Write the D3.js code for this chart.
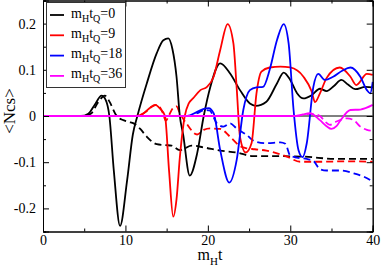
<!DOCTYPE html>
<html>
<head>
<meta charset="utf-8">
<script src="https://cdn.jsdelivr.net/npm/d3@7"></script>
<style>
  body { margin: 0; background: white; }
  text { font-family: "Liberation Serif", "DejaVu Serif", serif; }
</style>
</head>
<body>
<div id="container"></div>
<script>
let w = 382;
let h = 268;

// series: [m_H t, <Ncs>]
let solid0 = [[0,0],[4.6,0],[5.5,0.005],[6.3,0.025],[7.1,0.044],[7.6,0.035],[8.05,0],[8.6,-0.12],[9.35,-0.238],[10.2,-0.14],[10.9,-0.04],[11.45,0],[12.6,0.071],[13.8,0.136],[14.6,0.164],[15.2,0.168],[15.7,0.145],[16.2,0.085],[16.6,0],[17.0,-0.04],[17.8,-0.129],[18.7,-0.081],[19.5,0],[20.3,0.063],[21.5,0.114],[22.7,0.092],[23.9,0.056],[25.1,0.027],[25.8,0.022],[27.1,0.031],[28.4,0.071],[29.2,0.094],[30.0,0.078],[30.8,0.05],[31.6,0.038],[32.6,0.045],[33.6,0.059],[34.4,0.054],[35.3,0.065],[36.2,0.078],[37.0,0.068],[37.9,0.058],[39.1,0.063],[40,0.062]];
let dashed0 = [[0,0],[4.8,0],[5.8,0.005],[6.7,0.03],[7.5,0.044],[8.1,0.03],[8.8,0.004],[9.2,-0.004],[9.75,-0.009],[10.4,-0.013],[11.0,-0.016],[11.8,-0.028],[12.6,-0.045],[13.8,-0.061],[14.8,-0.063],[15.6,-0.064],[16.6,-0.074],[17.2,-0.07],[18.0,-0.064],[19.5,-0.068],[21.5,-0.075],[23.5,-0.079],[25.5,-0.087],[28.4,-0.087],[31.6,-0.088],[35.6,-0.093],[40,-0.093]];
let solid9 = [[0,0],[11.3,0],[12.2,0.006],[13.0,0.018],[13.6,0.024],[14.2,0.016],[14.8,0],[15.3,-0.12],[15.8,-0.218],[16.2,-0.18],[16.6,-0.09],[17.2,0],[17.7,0.028],[18.2,0.038],[19.1,0.056],[19.9,0.063],[20.7,0.085],[21.5,0.143],[22.4,0.199],[23.1,0.157],[23.5,0.06],[23.9,-0.045],[24.6,-0.079],[25.3,-0.059],[25.9,0.049],[26.5,0.096],[27.5,0.105],[28.8,0.107],[30.0,0.105],[31.6,0.085],[32.6,0.053],[33.0,0.03],[33.6,0.049],[34.4,0.082],[36.0,0.105],[37.3,0.085],[38.0,0.067],[39.3,0.091],[40,0.089]];
let dashed9 = [[0,0],[11.5,0],[12.4,0.008],[13.2,0.02],[13.9,0.024],[14.5,0.008],[14.9,-0.01],[15.3,0.002],[15.8,0.018],[16.2,0.021],[16.6,0.006],[17.4,-0.016],[18.7,-0.04],[19.5,-0.03],[20.3,-0.027],[21.5,-0.028],[22.7,-0.045],[23.9,-0.065],[24.7,-0.07],[25.7,-0.072],[27.1,-0.075],[28.4,-0.081],[29.6,-0.088],[31.2,-0.099],[33.6,-0.099],[36.9,-0.098],[40,-0.099]];
let solid18 = [[0,0],[17.5,0],[18.7,0.009],[19.6,0.016],[20.1,0.017],[20.7,0.006],[21.5,-0.074],[22.6,-0.144],[23.5,-0.095],[24.3,0.013],[25.1,0.056],[25.9,0.062],[26.7,0.063],[27.5,0.1],[28.4,0.165],[29.2,0.199],[29.8,0.157],[30.4,0.013],[31.0,-0.074],[31.5,-0.089],[32.0,-0.059],[32.8,0.063],[33.4,0.091],[34.2,0.078],[35.2,0.085],[36.3,0.098],[37.3,0.105],[38.5,0.085],[39.3,0.056],[39.7,0.049],[40,0.074]];
let dashed18 = [[0,0],[17.8,0],[18.7,0.006],[19.6,0.013],[20.2,0.012],[21.1,-0.016],[21.9,-0.023],[22.7,-0.016],[23.5,-0.027],[24.7,-0.041],[25.7,-0.055],[27.1,-0.059],[28.8,-0.057],[29.4,-0.06],[30.0,-0.086],[30.8,-0.09],[32.0,-0.093],[32.8,-0.097],[33.6,-0.115],[34.4,-0.118],[36.0,-0.118],[37.7,-0.124],[39.0,-0.132],[40,-0.142]];
let solid36 = [[0,0],[30.5,0],[31.2,0.002],[32.4,0.006],[33.6,-0.009],[34.4,-0.022],[35.0,-0.028],[35.6,-0.022],[36.0,-0.012],[37.3,0.013],[38.5,0.014],[40,0.024]];
let dashed36 = [[0,0],[31.0,0],[31.6,0.004],[32.8,0.004],[33.6,0],[34.2,-0.012],[34.8,-0.019],[35.6,-0.012],[36.9,-0.005],[37.7,-0.009],[38.5,-0.023],[39.3,-0.03],[40,-0.032]];

let legendLabels = ["0", "9", "18", "36"];
let colors = ["black", "red", "blue", "magenta"];
let xTicks = [0, 10, 20, 30, 40];
let yTicks = [-0.2, -0.1, 0, 0.1, 0.2];
let xMinor = [5, 15, 25, 35];
let yMinor = [-0.25, -0.15, -0.05, 0.05, 0.15, 0.25];

let solids = [solid0, solid9, solid18, solid36];
let dashes = [dashed0, dashed9, dashed18, dashed36];

let padL = 43, padR = 372.7, padT = 0.5, padB = 231.5;

let viz = d3.select("#container")
  .append("svg")
    .attr("width", w)
    .attr("height", h)
    .style("background-color", "white")
;

let xScale = d3.scaleLinear().domain([0, 40]).range([padL, padR]);
let yScale = d3.scaleLinear().domain([-0.25, 0.25]).range([padB, padT]);

// zero line
viz.append("line")
  .attr("x1", padL).attr("x2", padR)
  .attr("y1", yScale(0)).attr("y2", yScale(0))
  .attr("stroke", "black").attr("stroke-width", 1);

let line = d3.line()
  .x(d => xScale(d[0]))
  .y(d => yScale(d[1]))
  .curve(d3.curveMonotoneX);

viz.selectAll(".dash").data(dashes).enter()
  .append("path")
    .attr("class", "dash")
    .attr("d", d => line(d))
    .attr("fill", "none")
    .attr("stroke", (d, i) => colors[i])
    .attr("stroke-width", 1.8)
    .attr("stroke-dasharray", "7,4")
;
viz.selectAll(".solid").data(solids).enter()
  .append("path")
    .attr("class", "solid")
    .attr("d", d => line(d))
    .attr("fill", "none")
    .attr("stroke", (d, i) => colors[i])
    .attr("stroke-width", 1.8)
;

// axes, ticks inside on all four sides
function styleAxis(g) {
  g.select(".domain").attr("stroke", "black").attr("stroke-width", 1);
  g.selectAll(".tick line").attr("stroke", "black");
  g.selectAll("text").attr("fill", "black").style("font-size", "14px").style("font-family", "Liberation Serif");
}

viz.append("g").attr("transform", "translate(0," + padB + ")")
  .call(d3.axisBottom(xScale).tickValues(xTicks).tickSize(-6).tickPadding(4).tickFormat(d3.format("d")))
  .call(styleAxis);
viz.append("g").attr("transform", "translate(0," + padB + ")")
  .call(d3.axisBottom(xScale).tickValues(xMinor).tickSize(-3).tickFormat(""))
  .call(styleAxis);
viz.append("g").attr("transform", "translate(0," + padT + ")")
  .call(d3.axisTop(xScale).tickValues(xTicks).tickSize(-6).tickFormat(""))
  .call(styleAxis);
viz.append("g").attr("transform", "translate(0," + padT + ")")
  .call(d3.axisTop(xScale).tickValues(xMinor).tickSize(-3).tickFormat(""))
  .call(styleAxis);

viz.append("g").attr("transform", "translate(" + padL + ",0)")
  .call(d3.axisLeft(yScale).tickValues(yTicks).tickSize(-6).tickPadding(7).tickFormat(d => d === 0 ? "0" : d3.format(".1f")(d).replace("−", "-")))
  .call(styleAxis);
viz.append("g").attr("transform", "translate(" + padL + ",0)")
  .call(d3.axisLeft(yScale).tickValues(yMinor).tickSize(-3).tickFormat(""))
  .call(styleAxis);
viz.append("g").attr("transform", "translate(" + padR + ",0)")
  .call(d3.axisRight(yScale).tickValues(yTicks).tickSize(-6).tickFormat(""))
  .call(styleAxis);
viz.append("g").attr("transform", "translate(" + padR + ",0)")
  .call(d3.axisRight(yScale).tickValues(yMinor).tickSize(-3).tickFormat(""))
  .call(styleAxis);

// axis titles
viz.append("text")
  .attr("transform", "translate(15,111) rotate(-90)")
  .attr("text-anchor", "middle")
  .style("font-size", "17px")
  .text("<Ncs>");

let xt = viz.append("text")
  .attr("x", 210).attr("y", 260)
  .attr("text-anchor", "middle")
  .style("font-size", "16px");
xt.append("tspan").text("m");
xt.append("tspan").attr("dy", 5).style("font-size", "11px").text("H");
xt.append("tspan").attr("dy", -5).text("t");

// legend
viz.append("rect")
  .attr("x", 46.5).attr("y", 2.5).attr("width", 79).attr("height", 85)
  .attr("fill", "white").attr("stroke", "#333").attr("stroke-width", 1);

let items = viz.selectAll(".legenditem").data(legendLabels).enter()
  .append("g")
    .attr("class", "legenditem")
    .attr("transform", (d, i) => "translate(0," + (15 + i * 20.3) + ")")
;
items.append("line")
  .attr("x1", 50).attr("x2", 64).attr("y1", 0).attr("y2", 0)
  .attr("stroke", (d, i) => colors[i]).attr("stroke-width", 1.8);
let lt = items.append("text")
  .attr("x", 71).attr("y", 2.5)
  .style("font-size", "14px");
lt.append("tspan").text("m");
lt.append("tspan").attr("dy", 4).style("font-size", "10px").text("H");
lt.append("tspan").attr("dy", -4).text("t");
lt.append("tspan").attr("dy", 4).style("font-size", "10px").text("Q");
lt.append("tspan").attr("dy", -4).text(d => "=" + d);
</script>
</body>
</html>
